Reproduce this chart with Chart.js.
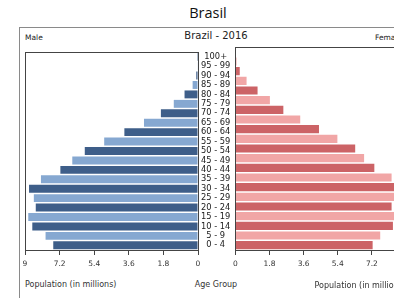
<!DOCTYPE html>
<html>
<head>
<meta charset="utf-8">
<script src="https://cdn.jsdelivr.net/npm/chart.js@4/dist/chart.umd.min.js"></script>
<style>
    html, body { margin: 0; padding: 0; background: #fff; }
    body { width: 394px; height: 298px; overflow: hidden; position: relative; font-family: 'DejaVu Sans', sans-serif; color: #333; }
    .abs { position: absolute; white-space: nowrap; }
    #pageTitle { left: 208px; top: 3px; transform: translateX(-50%); font-family: 'Open Sans', sans-serif; font-size: 14.5px; color: #111; }
    #frame { left: 19px; top: 27px; width: 420px; height: 290px; border: 1px solid #8a8a8a; }
    #chartTitle { left: 216px; top: 30px; transform: translateX(-50%); font-size: 10px; color: #222; }
    #maleLabel { left: 25px; top: 33px; font-size: 7.5px; color: #222; }
    #femaleLabel { left: 375px; top: 33px; font-size: 7.5px; color: #222; }
    #ageLabel { left: 216px; top: 280px; transform: translateX(-50%); font-size: 8px; color: #333; }
    #maleAxisTitle { left: 25px; top: 280px; font-size: 8px; color: #333; }
    #maleChart { left: 20px; top: 44px; }
    #femaleChart { left: 228px; top: 44px; }
</style>
</head>
<body>
<div id="pageTitle" class="abs">Brasil</div>
<div id="frame" class="abs"></div>
<div id="chartTitle" class="abs">Brazil - 2016</div>
<div id="maleLabel" class="abs">Male</div>
<div id="femaleLabel" class="abs">Female</div>
<div id="ageLabel" class="abs">Age Group</div>
<div id="maleAxisTitle" class="abs">Population (in millions)</div>
<canvas id="maleChart" class="abs" width="213" height="254"></canvas>
<canvas id="femaleChart" class="abs" width="190" height="254"></canvas>
<script>
// Data (millions), from youngest to oldest
const ageGroups = ['0 - 4', '5 - 9', '10 - 14', '15 - 19', '20 - 24', '25 - 29', '30 - 34',
    '35 - 39', '40 - 44', '45 - 49', '50 - 54', '55 - 59', '60 - 64', '65 - 69', '70 - 74',
    '75 - 79', '80 - 84', '85 - 89', '90 - 94', '95 - 99', '100+'];
const malePop = [7.53, 7.93, 8.62, 8.83, 8.44, 8.54, 8.79, 8.17, 7.16, 6.54, 5.89,
    4.88, 3.83, 2.81, 1.93, 1.26, 0.70, 0.28, 0.09, 0.02, 0.005];
const femalePop = [7.24, 7.64, 8.31, 8.60, 8.24, 8.38, 8.80, 8.24, 7.33, 6.79, 6.32,
    5.38, 4.41, 3.42, 2.53, 1.82, 1.17, 0.59, 0.23, 0.06, 0.01];
const popTicks = [0, 1.8, 3.6, 5.4, 7.2, 9];

const MALE_DARK = '#3e5e89';
const MALE_LIGHT = '#86a8d1';
const FEMALE_DARK = '#cc6366';
const FEMALE_LIGHT = '#f1a6a6';

Chart.defaults.font.family = "'DejaVu Sans', sans-serif";
Chart.defaults.font.size = 8;
Chart.defaults.color = '#333';

// draw a thin box round the plot area
const boxPlugin = {
    id: 'box',
    afterDatasetsDraw(chart) {
        const { ctx, chartArea: a } = chart;
        ctx.save();
        ctx.strokeStyle = '#444';
        ctx.lineWidth = 1;
        ctx.strokeRect(Math.round(a.left) + 0.5, Math.round(a.top) + 0.5,
            Math.round(a.right - a.left), Math.round(a.bottom - a.top));
        ctx.restore();
    }
};

function xScale(reverse) {
    return {
        type: 'linear',
        min: 0,
        max: 9,
        reverse: reverse,
        afterBuildTicks: (scale) => {
            scale.ticks = popTicks.map(v => ({ value: v }));
        },
        afterFit: (scale) => { scale.height = 45; },
        grid: { drawOnChartArea: false, drawTicks: true, tickLength: 5, color: '#444' },
        border: { display: false },
        ticks: { padding: 5, color: '#333', maxRotation: 0, font: { size: 7.5 } },
        // title alignment is off on a reversed axis, so the male one is a div
        title: { display: !reverse, text: 'Population (in millions)', align: 'end', color: '#333', font: { size: 8 } }
    };
}

function makeChart(id, values, dark, light, male) {
    const ctx = document.getElementById(id).getContext('2d');
    return new Chart(ctx, {
        type: 'bar',
        data: {
            labels: ageGroups,
            datasets: [{
                data: values,
                backgroundColor: values.map((v, i) => i % 2 === 0 ? dark : light),
                barPercentage: 0.84,
                categoryPercentage: 1.0
            }]
        },
        options: {
            indexAxis: 'y',
            responsive: false,
            animation: false,
            layout: { padding: male ? { left: 5, top: 3, right: 0, bottom: 3 } : { left: 5, top: 3, right: 12, bottom: 3 } },
            scales: {
                x: xScale(male),
                y: {
                    type: 'category',
                    reverse: true,
                    position: male ? 'right' : 'left',
                    display: male,
                    afterFit: (scale) => { scale.width = male ? 35 : 0; },
                    grid: { display: false, drawTicks: false },
                    border: { display: false },
                    ticks: { crossAlign: 'center', padding: 3, color: '#222', autoSkip: false, font: { size: 8.3 } }
                }
            },
            plugins: {
                legend: { display: false },
                tooltip: { enabled: false }
            }
        },
        plugins: [boxPlugin]
    });
}

makeChart('maleChart', malePop, MALE_DARK, MALE_LIGHT, true);
makeChart('femaleChart', femalePop, FEMALE_DARK, FEMALE_LIGHT, false);
</script>
</body>
</html>
